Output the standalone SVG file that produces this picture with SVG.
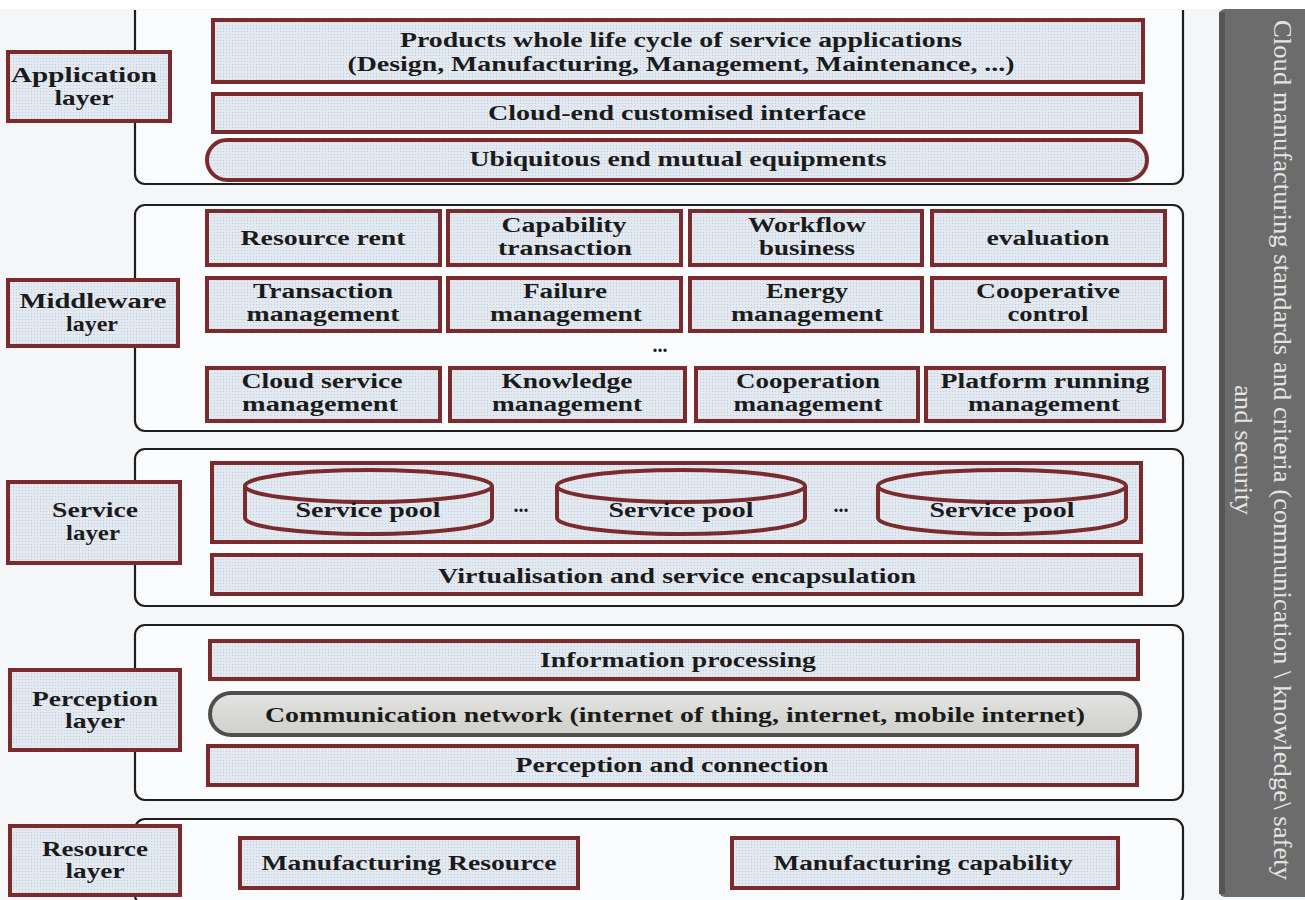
<svg xmlns="http://www.w3.org/2000/svg" width="1305" height="900" viewBox="0 0 1305 900">
<defs>
<pattern id="dots" width="3" height="3" patternUnits="userSpaceOnUse">
<rect width="3" height="3" fill="#e3e9f1"/>
<rect x="1" y="1" width="1" height="1" fill="#c3cdda"/>
</pattern>
<linearGradient id="grayPill" x1="0" y1="0" x2="0" y2="1">
<stop offset="0" stop-color="#e4e4e2"/>
<stop offset="0.5" stop-color="#d8d8d5"/>
<stop offset="1" stop-color="#cfcfcc"/>
</linearGradient>
<style>
.layer{fill:#fafbfd;stroke:#1e1e1e;stroke-width:2.2}
.box{fill:url(#dots);stroke:#7b2b2b;stroke-width:4}
.pill{fill:url(#grayPill);stroke:#4e4e4e;stroke-width:4}
.t{font-family:"Liberation Serif","Times New Roman",serif;font-weight:bold;font-size:20px;fill:#1b1b1b;text-anchor:middle}
.side{font-family:"Liberation Serif","Times New Roman",serif;font-size:26px;fill:#e4e4e4;text-anchor:middle;writing-mode:vertical-rl}
</style>
</defs>
<rect width="1305" height="900" fill="#f4f6f8"/>
<rect width="1305" height="9" fill="#ffffff"/>

<!-- outer layer frames -->
<g id="frames">
<path class="layer" d="M135,10 V174 A10,10 0 0 0 145,184 H1173 A10,10 0 0 0 1183,174 V10"/>
<rect class="layer" x="135" y="205" width="1048" height="226" rx="10"/>
<rect class="layer" x="135" y="449" width="1048" height="157" rx="10"/>
<rect class="layer" x="135" y="625" width="1048" height="175" rx="10"/>
<rect class="layer" x="135" y="819" width="1048" height="86" rx="10"/>
</g>

<!-- right bar -->
<g id="standards-bar">
<rect x="1219" y="9" width="95" height="888" rx="6" fill="#6c6c6c"/>
<rect x="1219" y="12" width="6" height="882" fill="#565656"/>
<text class="side" x="1282" y="450" textLength="860" lengthAdjust="spacingAndGlyphs">Cloud manufacturing standards and criteria (communication \ knowledge\ safety</text>
<text class="side" x="1243" y="450" textLength="130" lengthAdjust="spacingAndGlyphs">and security</text>
</g>

<!-- layer labels -->
<g id="label-application">
<rect class="box" x="8" y="52" width="162" height="69"/>
<text class="t" x="84" y="82" textLength="146" lengthAdjust="spacingAndGlyphs">Application</text>
<text class="t" x="84" y="105" textLength="59" lengthAdjust="spacingAndGlyphs">layer</text>
</g>
<g id="label-middleware">
<rect class="box" x="8" y="280" width="170" height="66"/>
<text class="t" x="93" y="308" textLength="147" lengthAdjust="spacingAndGlyphs">Middleware</text>
<text class="t" x="92" y="331" textLength="52" lengthAdjust="spacingAndGlyphs">layer</text>
</g>
<g id="label-service">
<rect class="box" x="8" y="482" width="172" height="81"/>
<text class="t" x="95" y="517" textLength="86" lengthAdjust="spacingAndGlyphs">Service</text>
<text class="t" x="93" y="540" textLength="54" lengthAdjust="spacingAndGlyphs">layer</text>
</g>
<g id="label-perception">
<rect class="box" x="10" y="670" width="170" height="80"/>
<text class="t" x="95" y="706" textLength="126" lengthAdjust="spacingAndGlyphs">Perception</text>
<text class="t" x="95" y="728" textLength="60" lengthAdjust="spacingAndGlyphs">layer</text>
</g>
<g id="label-resource">
<rect class="box" x="10" y="826" width="170" height="69"/>
<text class="t" x="95" y="856" textLength="106" lengthAdjust="spacingAndGlyphs">Resource</text>
<text class="t" x="95" y="878" textLength="59" lengthAdjust="spacingAndGlyphs">layer</text>
</g>

<!-- application layer -->
<g id="products-lifecycle">
<rect class="box" x="213" y="20" width="930" height="62"/>
<text class="t" x="681" y="47" textLength="562" lengthAdjust="spacingAndGlyphs">Products whole life cycle of service applications</text>
<text class="t" x="681" y="71" textLength="667" lengthAdjust="spacingAndGlyphs">(Design, Manufacturing, Management, Maintenance, ...)</text>
</g>
<g id="cloud-end-interface">
<rect class="box" x="213" y="94" width="928" height="38"/>
<text class="t" x="677" y="120" textLength="378" lengthAdjust="spacingAndGlyphs">Cloud-end customised interface</text>
</g>
<g id="ubiquitous-equipments">
<rect class="box" x="207" y="140" width="940" height="40" rx="20"/>
<text class="t" x="678" y="166" textLength="417" lengthAdjust="spacingAndGlyphs">Ubiquitous end mutual equipments</text>
</g>

<!-- middleware layer -->
<g id="resource-rent">
<rect class="box" x="207" y="211" width="233" height="54"/>
<text class="t" x="323" y="245" textLength="165" lengthAdjust="spacingAndGlyphs">Resource rent</text>
</g>
<g id="capability-transaction">
<rect class="box" x="448" y="211" width="233" height="54"/>
<text class="t" x="564" y="232" textLength="125" lengthAdjust="spacingAndGlyphs">Capability</text>
<text class="t" x="565" y="255" textLength="134" lengthAdjust="spacingAndGlyphs">transaction</text>
</g>
<g id="workflow-business">
<rect class="box" x="690" y="211" width="232" height="54"/>
<text class="t" x="807" y="232" textLength="118" lengthAdjust="spacingAndGlyphs">Workflow</text>
<text class="t" x="807" y="255" textLength="96" lengthAdjust="spacingAndGlyphs">business</text>
</g>
<g id="evaluation">
<rect class="box" x="932" y="211" width="233" height="54"/>
<text class="t" x="1048" y="245" textLength="123" lengthAdjust="spacingAndGlyphs">evaluation</text>
</g>
<g id="transaction-management">
<rect class="box" x="207" y="278" width="233" height="53"/>
<text class="t" x="323" y="298" textLength="140" lengthAdjust="spacingAndGlyphs">Transaction</text>
<text class="t" x="323" y="321" textLength="153" lengthAdjust="spacingAndGlyphs">management</text>
</g>
<g id="failure-management">
<rect class="box" x="448" y="278" width="233" height="53"/>
<text class="t" x="565" y="298" textLength="84" lengthAdjust="spacingAndGlyphs">Failure</text>
<text class="t" x="566" y="321" textLength="152" lengthAdjust="spacingAndGlyphs">management</text>
</g>
<g id="energy-management">
<rect class="box" x="690" y="278" width="232" height="53"/>
<text class="t" x="807" y="298" textLength="82" lengthAdjust="spacingAndGlyphs">Energy</text>
<text class="t" x="807" y="321" textLength="152" lengthAdjust="spacingAndGlyphs">management</text>
</g>
<g id="cooperative-control">
<rect class="box" x="932" y="278" width="233" height="53"/>
<text class="t" x="1048" y="298" textLength="144" lengthAdjust="spacingAndGlyphs">Cooperative</text>
<text class="t" x="1048" y="321" textLength="81" lengthAdjust="spacingAndGlyphs">control</text>
</g>
<g id="middleware-ellipsis">
<text class="t" x="660" y="352">...</text>
</g>
<g id="cloud-service-management">
<rect class="box" x="207" y="368" width="233" height="53"/>
<text class="t" x="322" y="388" textLength="161" lengthAdjust="spacingAndGlyphs">Cloud service</text>
<text class="t" x="320" y="411" textLength="156" lengthAdjust="spacingAndGlyphs">management</text>
</g>
<g id="knowledge-management">
<rect class="box" x="450" y="368" width="235" height="53"/>
<text class="t" x="567" y="388" textLength="131" lengthAdjust="spacingAndGlyphs">Knowledge</text>
<text class="t" x="567" y="411" textLength="150" lengthAdjust="spacingAndGlyphs">management</text>
</g>
<g id="cooperation-management">
<rect class="box" x="696" y="368" width="222" height="53"/>
<text class="t" x="808" y="388" textLength="144" lengthAdjust="spacingAndGlyphs">Cooperation</text>
<text class="t" x="808" y="411" textLength="149" lengthAdjust="spacingAndGlyphs">management</text>
</g>
<g id="platform-running-management">
<rect class="box" x="926" y="368" width="238" height="53"/>
<text class="t" x="1045" y="388" textLength="209" lengthAdjust="spacingAndGlyphs">Platform running</text>
<text class="t" x="1044" y="411" textLength="152" lengthAdjust="spacingAndGlyphs">management</text>
</g>

<!-- service layer -->
<g id="service-pools">
<rect class="box" x="212" y="463" width="929" height="79"/>
<g id="service-pool-1">
<path class="box" d="M245,486 V518 A123.5,16 0 0 0 492,518 V486"/>
<ellipse class="box" cx="368.5" cy="486" rx="123.5" ry="16"/>
<text class="t" x="368" y="517" textLength="145" lengthAdjust="spacingAndGlyphs">Service pool</text>
</g>
<text class="t" x="521" y="512">...</text>
<g id="service-pool-2">
<path class="box" d="M557,486 V518 A124,16 0 0 0 805,518 V486"/>
<ellipse class="box" cx="681" cy="486" rx="124" ry="16"/>
<text class="t" x="681" y="517" textLength="145" lengthAdjust="spacingAndGlyphs">Service pool</text>
</g>
<text class="t" x="841" y="512">...</text>
<g id="service-pool-3">
<path class="box" d="M878,486 V518 A124,16 0 0 0 1126,518 V486"/>
<ellipse class="box" cx="1002" cy="486" rx="124" ry="16"/>
<text class="t" x="1002" y="517" textLength="145" lengthAdjust="spacingAndGlyphs">Service pool</text>
</g>
</g>
<g id="virtualisation">
<rect class="box" x="212" y="555" width="929" height="39"/>
<text class="t" x="677" y="583" textLength="478" lengthAdjust="spacingAndGlyphs">Virtualisation and service encapsulation</text>
</g>

<!-- perception layer -->
<g id="information-processing">
<rect class="box" x="210" y="641" width="928" height="38"/>
<text class="t" x="678" y="667" textLength="276" lengthAdjust="spacingAndGlyphs">Information processing</text>
</g>
<g id="communication-network">
<rect class="pill" x="210" y="693" width="930" height="42" rx="21"/>
<text class="t" x="675" y="722" textLength="820" lengthAdjust="spacingAndGlyphs">Communication network (internet of thing, internet, mobile internet)</text>
</g>
<g id="perception-connection">
<rect class="box" x="208" y="746" width="929" height="39"/>
<text class="t" x="672" y="772" textLength="313" lengthAdjust="spacingAndGlyphs">Perception and connection</text>
</g>

<!-- resource layer -->
<g id="manufacturing-resource">
<rect class="box" x="240" y="838" width="338" height="50"/>
<text class="t" x="409" y="870" textLength="295" lengthAdjust="spacingAndGlyphs">Manufacturing Resource</text>
</g>
<g id="manufacturing-capability">
<rect class="box" x="732" y="838" width="386" height="50"/>
<text class="t" x="923" y="870" textLength="299" lengthAdjust="spacingAndGlyphs">Manufacturing capability</text>
</g>

<g id="connectors"></g>
</svg>
